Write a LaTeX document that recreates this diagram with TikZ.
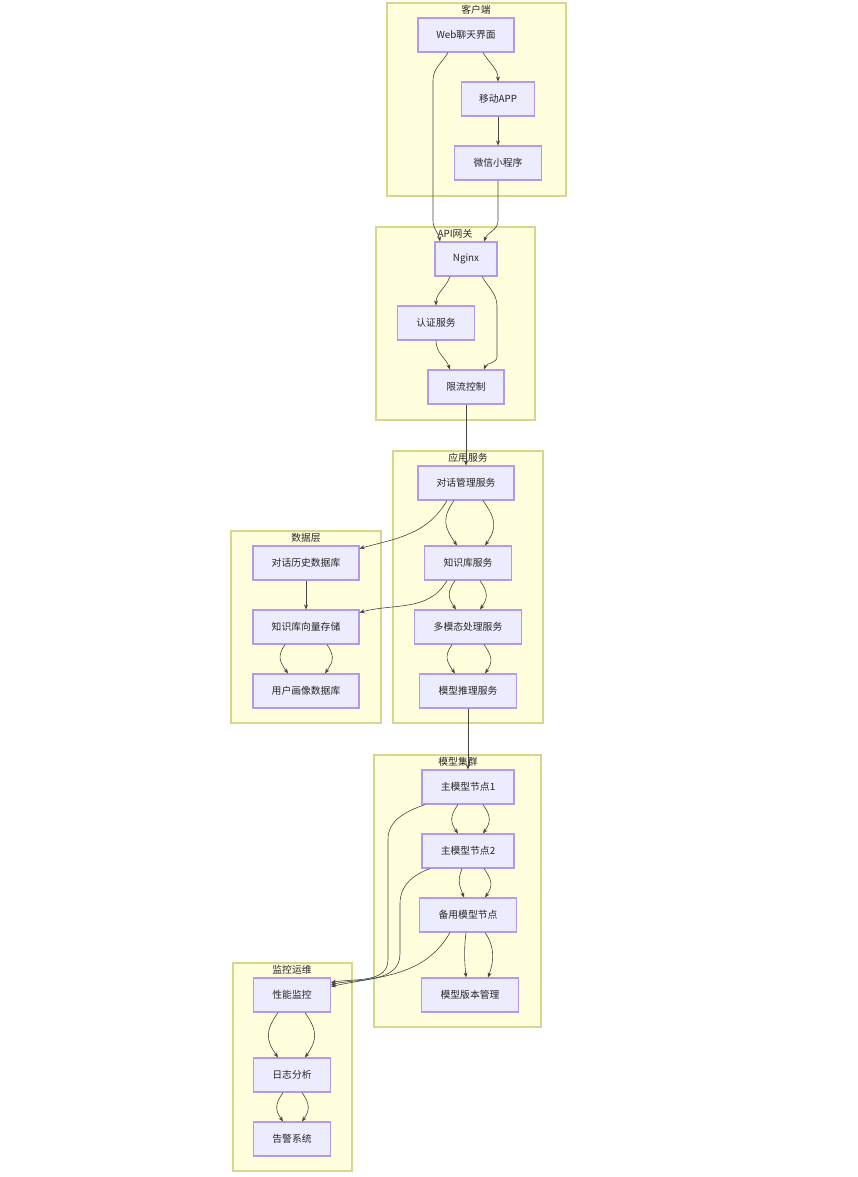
\documentclass[tikz,border=0pt]{standalone}
\usepackage{fontspec}
\setmainfont{Noto Sans CJK SC}
\usetikzlibrary{arrows.meta}
\definecolor{clfill}{HTML}{FFFFDE}
\definecolor{cldraw}{HTML}{D6D68E}
\definecolor{boxfill}{HTML}{ECECFF}
\definecolor{boxdraw}{HTML}{B29AE8}
\definecolor{edgecol}{HTML}{444444}
\begin{document}
\begin{tikzpicture}[x=1pt,y=1pt,
    font=\fontsize{9.8}{11}\selectfont,
    cluster/.style={draw=cldraw,fill=clfill,line width=1.3pt},
    clabel/.style={inner sep=0pt,text=black!85},
    box/.style={draw=boxdraw,fill=boxfill,line width=1.1pt,minimum height=34pt,inner sep=0pt,text=black!85},
    flow/.style={draw=edgecol,line width=0.6pt,looseness=1.25,-{Stealth[length=5pt,width=4pt]}}]
\useasboundingbox (0,0) rectangle (858,-1177);
% groups
\draw[cluster] (387,-3) rectangle (566,-196);
\draw[cluster] (376,-227) rectangle (535,-420);
\draw[cluster] (393,-451) rectangle (543,-723);
\draw[cluster] (231,-531) rectangle (381,-723);
\draw[cluster] (374,-755) rectangle (541,-1027);
\draw[cluster] (233,-963) rectangle (352,-1171);
\node[clabel] (gclient) at (476,-10) {客户端};
\node[clabel] (ggate) at (455,-234) {API网关};
\node[clabel] (gapp) at (468,-458) {应用服务};
\node[clabel] (gdata) at (306,-538) {数据层};
\node[clabel] (gmodel) at (458,-762) {模型集群};
\node[clabel] (gmon) at (292,-970) {监控运维};
% nodes
\node[box,minimum width=96pt] (web) at (466,-35) {Web聊天界面};
\node[box,minimum width=73pt] (app) at (498,-99) {移动APP};
\node[box,minimum width=87pt] (wx) at (498,-163) {微信小程序};
\node[box,minimum width=62pt] (nginx) at (466,-259) {Nginx};
\node[box,minimum width=77pt] (auth) at (436,-323) {认证服务};
\node[box,minimum width=76pt] (rate) at (466,-387) {限流控制};
\node[box,minimum width=96pt] (dlg) at (466,-483) {对话管理服务};
\node[box,minimum width=87pt] (kb) at (468,-563) {知识库服务};
\node[box,minimum width=107pt] (mm) at (468,-627) {多模态处理服务};
\node[box,minimum width=97pt] (inf) at (468,-691) {模型推理服务};
\node[box,minimum width=106pt] (hist) at (306,-563) {对话历史数据库};
\node[box,minimum width=106pt] (vec) at (306,-627) {知识库向量存储};
\node[box,minimum width=106pt] (prof) at (306,-691) {用户画像数据库};
\node[box,minimum width=92pt] (main1) at (468,-787) {主模型节点1};
\node[box,minimum width=92pt] (main2) at (468,-851) {主模型节点2};
\node[box,minimum width=97pt] (backup) at (468,-915) {备用模型节点};
\node[box,minimum width=97pt] (ver) at (470,-995) {模型版本管理};
\node[box,minimum width=77pt] (perf) at (292,-995) {性能监控};
\node[box,minimum width=77pt] (log) at (292,-1075) {日志分析};
\node[box,minimum width=77pt] (alarm) at (292,-1139) {告警系统};
% edges
\draw[flow] ([xshift=17pt]web.south) to[out=-60,in=90,looseness=1] (app.north);
\draw[flow] ([xshift=-18pt]web.south) to[out=-120,in=90,looseness=1] ++(-15,-28) -- ++(0,-140) to[out=-90,in=100,looseness=1] ([xshift=-26pt]nginx.north);
\draw[flow] (app.south) -- (wx.north);
\draw[flow] (wx.south) -- ++(0,-40) to[out=-90,in=70,looseness=1] ([xshift=18pt]nginx.north);
\draw[flow] ([xshift=-16pt]nginx.south) to[out=-110,in=90,looseness=1] (auth.north);
\draw[flow] ([xshift=16pt]nginx.south) to[out=-60,in=90,looseness=1] ++(15,-30) -- ++(0,-50) to[out=-90,in=70,looseness=1] ([xshift=18pt]rate.north);
\draw[flow] (auth.south) to[out=-90,in=110,looseness=1] ([xshift=-16pt]rate.north);
\draw[flow] (rate.south) -- (dlg.north);
\draw[flow] ([xshift=-19pt]dlg.south) to[out=-120,in=15,looseness=1] ([yshift=-3pt]hist.north east);
\draw[flow] ([xshift=-12pt]dlg.south) to[out=-125,in=125] ([xshift=-11pt]kb.north);
\draw[flow] ([xshift=17pt]dlg.south) to[out=-55,in=55] ([xshift=17pt]kb.north);
\draw[flow] ([xshift=-21pt]kb.south) to[out=-120,in=15,looseness=1] ([yshift=-3pt]vec.north east);
\draw[flow] ([xshift=-13pt]kb.south) to[out=-125,in=125] ([xshift=-12pt]mm.north);
\draw[flow] ([xshift=12pt]kb.south) to[out=-55,in=55] ([xshift=12pt]mm.north);
\draw[flow] (hist.south) -- (vec.north);
\draw[flow] ([xshift=-21pt]vec.south) to[out=-125,in=125] ([xshift=-18pt]prof.north);
\draw[flow] ([xshift=21pt]vec.south) to[out=-55,in=55] ([xshift=19pt]prof.north);
\draw[flow] ([xshift=-16pt]mm.south) to[out=-125,in=125] ([xshift=-13pt]inf.north);
\draw[flow] ([xshift=16pt]mm.south) to[out=-55,in=55] ([xshift=17pt]inf.north);
\draw[flow] (inf.south) -- (main1.north);
\draw[flow] ([xshift=-10pt]main1.south) to[out=-125,in=125] ([xshift=-10pt]main2.north);
\draw[flow] ([xshift=15pt]main1.south) to[out=-55,in=55] ([xshift=15pt]main2.north);
\draw[flow] ([xshift=-43pt]main1.south) to[out=-160,in=90,looseness=1] ++(-37,-35) -- ++(0,-120) to[out=-90,in=10,looseness=1] ([yshift=-5pt]perf.north east);
\draw[flow] ([xshift=-6pt]main2.south) to[out=-110,in=110] ([xshift=-4pt]backup.north);
\draw[flow] ([xshift=16pt]main2.south) to[out=-55,in=55] ([xshift=17pt]backup.north);
\draw[flow] ([xshift=-38pt]main2.south) to[out=-160,in=90,looseness=1] ++(-30,-35) -- ++(0,-50) to[out=-90,in=12,looseness=1] ([yshift=-7pt]perf.north east);
\draw[flow] ([xshift=-18pt]backup.south) to[out=-120,in=12,looseness=1] ([yshift=-9pt]perf.north east);
\draw[flow] ([xshift=-2pt]backup.south) to[out=-97,in=95,looseness=1] ([xshift=-4pt]ver.north);
\draw[flow] ([xshift=17pt]backup.south) to[out=-55,in=70,looseness=1] ([xshift=18pt]ver.north);
\draw[flow] ([xshift=-14pt]perf.south) to[out=-125,in=125] ([xshift=-14pt]log.north);
\draw[flow] ([xshift=13pt]perf.south) to[out=-55,in=55] ([xshift=13pt]log.north);
\draw[flow] ([xshift=-9pt]log.south) to[out=-125,in=125] ([xshift=-9pt]alarm.north);
\draw[flow] ([xshift=10pt]log.south) to[out=-55,in=55] ([xshift=10pt]alarm.north);
\end{tikzpicture}
\end{document}
